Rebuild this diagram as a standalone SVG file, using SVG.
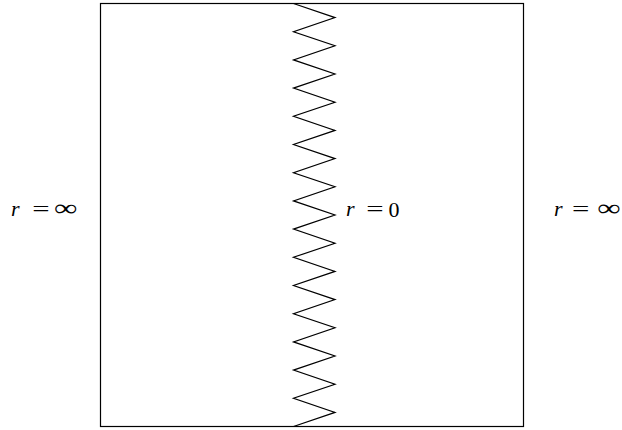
<svg xmlns="http://www.w3.org/2000/svg" width="622" height="430" viewBox="0 0 622 430">
<style>
.ln{fill:none;stroke:#000;stroke-width:1.2;stroke-linejoin:miter}
.t{font-family:"Liberation Serif","Times New Roman",serif;font-size:22px;fill:#000}
.i{font-style:italic}
</style>
<rect width="622" height="430" fill="#fff"/>
<g id="region">
<rect class="ln" x="100.5" y="3.5" width="423" height="423"/>
</g>
<g id="connectors">
<polyline class="ln" points="293.5,3.5 335,17.6 293.5,31.7 335,45.8 293.5,59.9 335,74 293.5,88.1 335,102.2 293.5,116.3 335,130.4 293.5,144.5 335,158.6 293.5,172.7 335,186.8 293.5,200.9 335,215 293.5,229.1 335,243.2 293.5,257.3 335,271.4 293.5,285.5 335,299.6 293.5,313.7 335,327.8 293.5,341.9 335,356 293.5,370.1 335,384.2 293.5,398.3 335,412.4 293.5,426.5"/>
</g>
<g id="label-left">
<text class="t i" x="11" y="216">r</text>
<text class="t" transform="translate(32.3,216) scale(1.4,1)">=</text>
<text class="t" transform="translate(54,216) scale(1.5,1.1)">∞</text>
</g>
<g id="label-center">
<text class="t i" x="346" y="216">r</text>
<text class="t" transform="translate(366.3,216) scale(1.4,1)">=</text>
<text class="t" x="388.4" y="216.5">0</text>
</g>
<g id="label-right">
<text class="t i" x="554" y="216">r</text>
<text class="t" transform="translate(572,216) scale(1.4,1)">=</text>
<text class="t" transform="translate(597.3,216) scale(1.5,1.1)">∞</text>
</g>
</svg>
